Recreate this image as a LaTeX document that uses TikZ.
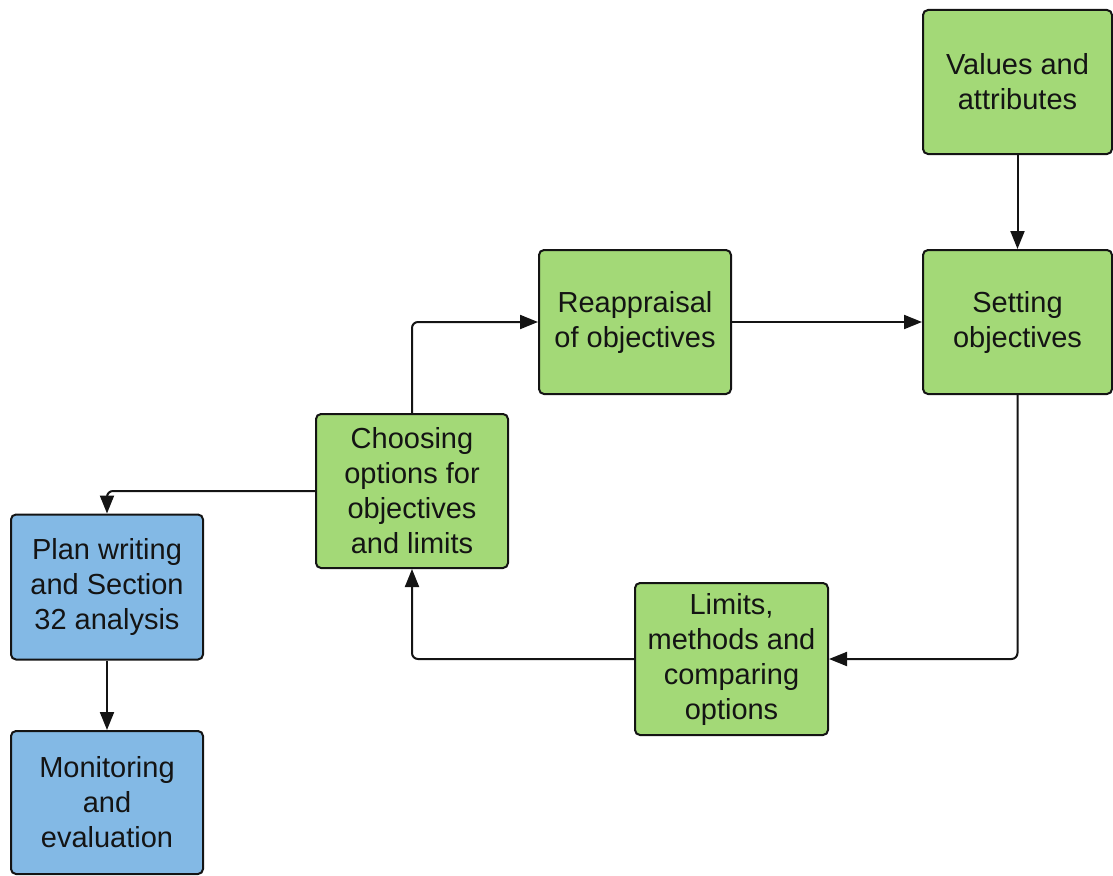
\documentclass[tikz,border=0pt]{standalone}
\usepackage{fontspec}
\setmainfont{Liberation Sans}
\usetikzlibrary{arrows.meta}
\definecolor{boxgreen}{HTML}{A3D977}
\definecolor{boxblue}{HTML}{83B9E5}
\definecolor{ink}{HTML}{141414}
\begin{document}
\begin{tikzpicture}[x=1pt,y=-1pt,
  box/.style={draw=ink,line width=2pt,rounded corners=5pt,align=center,
    font=\fontsize{29}{35}\selectfont,text=ink,inner sep=0pt},
  gbox/.style={box,fill=boxgreen},
  bbox/.style={box,fill=boxblue},
  conn/.style={draw=ink,line width=2pt,rounded corners=6pt,
    -{Triangle[length=18pt,width=14pt]}}]
\useasboundingbox (0,0) rectangle (1113,875);
\node[gbox,minimum width=189pt,minimum height=144pt] (val) at (1017.5,82) {Values and\\attributes};
\node[gbox,minimum width=189pt,minimum height=144pt] (set) at (1017.5,322) {Setting\\objectives};
\node[gbox,minimum width=192pt,minimum height=144pt] (rea) at (635,322) {Reappraisal\\of objectives};
\node[gbox,minimum width=192pt,minimum height=154pt] (cho) at (412,491) {Choosing\\options for\\objectives\\and limits};
\node[gbox,minimum width=193pt,minimum height=152pt] (lim) at (731.5,659) {Limits,\\methods and\\comparing\\options};
\node[bbox,minimum width=192pt,minimum height=145pt] (pla) at (107,587) {Plan writing\\and Section\\32 analysis};
\node[bbox,minimum width=192pt,minimum height=143pt] (mon) at (107,802.5) {Monitoring\\and\\evaluation};
\draw[conn] (val.south) -- (set.north);
\draw[conn] (rea.east) -- (set.west);
\draw[conn] (cho.north) |- (rea.west);
\draw[conn] (set.south) |- (lim.east);
\draw[conn] (lim.west) -| (cho.south);
\draw[conn] (cho.west) -| (pla.north);
\draw[conn] (pla.south) -- (mon.north);
\end{tikzpicture}
\end{document}
